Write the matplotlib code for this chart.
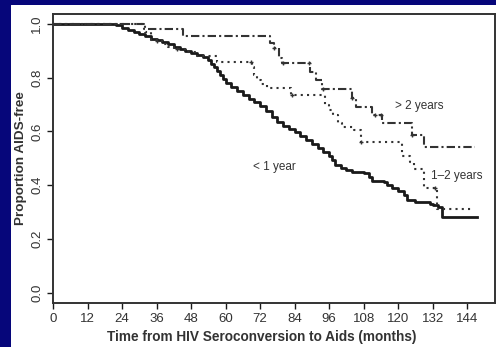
import matplotlib
matplotlib.use("Agg")
import matplotlib.pyplot as plt
import numpy as np
from matplotlib.patches import Rectangle

plt.rcParams['font.family'] = ['Liberation Sans', 'DejaVu Sans']

# < 1 year group (solid)
t_lt1 = [0, 22, 24, 26, 28, 30, 32, 34, 36, 38, 40, 42, 44, 46, 48, 50, 52, 54, 55, 56,
         57, 58, 59, 60, 62, 64, 66, 68, 70, 72, 74, 76, 78, 80, 82, 84, 86, 88, 90, 92,
         94, 96, 97, 98, 100, 102, 104, 108, 110, 111, 115, 116, 118, 120, 122, 123, 126,
         131, 132, 134, 135.3, 147.5]
s_lt1 = [1.0, 0.995, 0.985, 0.978, 0.97, 0.962, 0.955, 0.945, 0.94, 0.932, 0.925, 0.915,
         0.905, 0.9, 0.892, 0.885, 0.877, 0.865, 0.85, 0.84, 0.825, 0.81, 0.795, 0.78,
         0.765, 0.75, 0.735, 0.722, 0.708, 0.693, 0.675, 0.655, 0.637, 0.622, 0.61, 0.598,
         0.583, 0.567, 0.555, 0.54, 0.525, 0.51, 0.495, 0.475, 0.465, 0.455, 0.45, 0.447,
         0.43, 0.415, 0.412, 0.4, 0.39, 0.378, 0.365, 0.345, 0.339, 0.33, 0.325, 0.32,
         0.283, 0.283]

# 1-2 years group (dotted)
t_12 = [0, 32, 34, 36, 38, 40, 42, 46, 50, 57, 69.2, 70, 71, 72.5, 74.4, 82.6, 94.7, 96,
        97.5, 99, 100.5, 104.6, 107, 121.4, 124, 125.4, 128.9, 133.6, 145.2]
s_12 = [1.0, 0.97, 0.94, 0.935, 0.925, 0.915, 0.905, 0.895, 0.88, 0.86, 0.84, 0.81, 0.79,
        0.775, 0.76, 0.735, 0.70, 0.68, 0.66, 0.63, 0.615, 0.605, 0.562, 0.51, 0.485,
        0.46, 0.39, 0.31, 0.31]
cens_12 = [36, 43, 69, 83, 107, 133]

# > 2 years group (dash-dot)
t_gt2 = [0, 31.5, 45.2, 75.4, 76.8, 78.5, 79.7, 89.5, 91.5, 93.5, 104, 105.5, 111, 114.4,
         124.9, 128.9, 146.9]
s_gt2 = [1.0, 0.98, 0.955, 0.93, 0.91, 0.872, 0.854, 0.823, 0.79, 0.757, 0.723, 0.692,
         0.661, 0.63, 0.587, 0.541, 0.541]
cens_gt2 = [77, 80, 89, 94, 104, 112, 114, 125]

x_ticks = [0, 12, 24, 36, 48, 60, 72, 84, 96, 108, 120, 132, 144]
y_ticks = [0.0, 0.2, 0.4, 0.6, 0.8, 1.0]

ink = '#1a1a1a'
txt = '#333333'

fig = plt.figure(figsize=(4.96, 3.47), dpi=100)
fig.patch.set_facecolor('#06067a')

# white panel behind the chart
bg = fig.add_axes([11 / 496, 0, 1 - 11 / 496, 1 - 5 / 347], zorder=-5)
bg.set_axis_off()
bg.add_patch(Rectangle((0, 0), 1, 1, transform=bg.transAxes, color='white'))

ax = fig.add_axes([53 / 496, 1 - 303 / 347, 442 / 496, 289 / 347])
ax.set_facecolor('white')


def surv_at(t, s, x):
    i = np.searchsorted(t, x, side='right') - 1
    return s[i]


ax.step(t_lt1, s_lt1, where='post', color=ink, lw=2.0)
ax.step(t_12, s_12, where='post', color='#333333', lw=1.5, dashes=(1, 2.0))
ax.step(t_gt2, s_gt2, where='post', color='#333333', lw=1.5, dashes=(4, 1.5, 1, 1.5))

ax.plot(cens_12, [surv_at(t_12, s_12, c) for c in cens_12], ls='none', marker='+',
        ms=3.5, mew=1.0, color='#333333')
ax.plot(cens_gt2, [surv_at(t_gt2, s_gt2, c) for c in cens_gt2], ls='none', marker='+',
        ms=3.5, mew=1.0, color='#333333')

ax.text(119, 0.695, '> 2 years', fontsize=8.5, color=txt, va='center')
ax.text(69.5, 0.469, '< 1 year', fontsize=8.5, color=txt, va='center')
ax.text(131.5, 0.435, '1–2 years', fontsize=8.5, color=txt, va='center')

ax.set_xlim(0, 153.7)
ax.set_ylim(-0.038, 1.037)
ax.set_xticks(x_ticks)
ax.set_yticks(y_ticks)
ax.set_yticklabels(['%.1f' % v for v in y_ticks], rotation=90, va='center')
ax.tick_params(axis='both', direction='out', length=4.5, width=1.0, color=ink,
               labelsize=9.5, labelcolor=txt, pad=2.5)
ax.tick_params(top=False, right=False)
for sp in ax.spines.values():
    sp.set_color('#333333')
    sp.set_linewidth(1.4)

ax.set_xlabel('Time from HIV Seroconversion to Aids (months)', fontsize=9.8,
              fontweight='bold', color=txt)
ax.xaxis.set_label_coords(0.473, -0.095)
ax.set_ylabel('Proportion AIDS-free', fontsize=9.7, fontweight='bold', color=txt,
              labelpad=3)

fig.savefig('out.png', dpi=100, facecolor=fig.get_facecolor())
